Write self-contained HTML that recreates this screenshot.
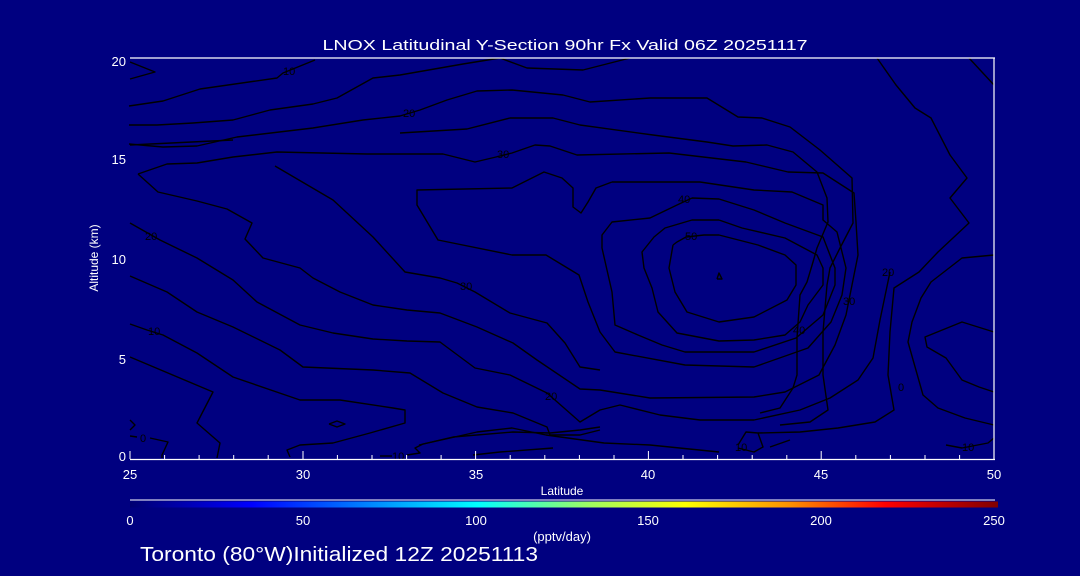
<!DOCTYPE html>
<html><head><meta charset="utf-8"><style>
html,body{margin:0;padding:0;background:#000080;}
svg{display:block;}
text{font-family:"Liberation Sans",sans-serif;fill:#fff;}
</style></head><body>
<svg width="1080" height="576" viewBox="0 0 1080 576" xmlns="http://www.w3.org/2000/svg">
<defs>
<linearGradient id="cb" x1="0" x2="1" y1="0" y2="0">
<stop offset="0" stop-color="#000070"/>
<stop offset="0.14" stop-color="#0000ff"/>
<stop offset="0.40" stop-color="#00ffff"/>
<stop offset="0.53" stop-color="#a0ff60"/>
<stop offset="0.64" stop-color="#ffff00"/>
<stop offset="0.76" stop-color="#ff9000"/>
<stop offset="0.87" stop-color="#ff0000"/>
<stop offset="1" stop-color="#800000"/>
</linearGradient>
</defs>
<rect width="1080" height="576" fill="#000080"/>
<text x="565" y="50" font-size="15" text-anchor="middle" textLength="485" lengthAdjust="spacingAndGlyphs">LNOX Latitudinal Y-Section 90hr  Fx Valid 06Z 20251117</text>

<g fill="none" stroke="#000" stroke-width="1.4" stroke-linejoin="round">
<polyline points="130,62 155,72 130,79"/>
<polyline points="129,106 163,101 200,89 277,78 283,73 315,60"/>
<polyline points="129,125 157,125 193,123 233,120 270,110 313,104 337,98 373,78 400,75 463,64 500,58"/>
<polyline points="500,58 527,68 583,70 630,58"/>
<polyline points="130,145 233,140"/>
<polyline points="129,144 163,147 197,146 237,137 313,128 363,120 400,116 420,110 447,100 477,91 512,90 563,95 590,102 650,98 707,98 738,117 762,118 790,127 820,150 852,178 853,223 840,248 830,268 827,285 823,332 823,375 828,410 810,422 780,425"/>
<polyline points="400,133 467,129 510,118 553,118 580,125 653,135 707,142 733,146 767,145 793,152 817,172 827,198 828,222 817,248 813,262 807,282 800,295 797,338 797,375 793,388 780,408 760,413"/>
<polyline points="138,174 167,164 197,163 233,157 277,152 367,154 443,154 475,162 496,157 512,153 535,145 550,146 577,155 669,153 746,162 788,172 823,173 854,193 856,222 858,255 850,295 846,315 835,345 819,375 785,392 754,397 650,398 600,390 580,389 537,360 513,343 477,327 440,313 407,310 373,305 340,292 313,278 300,268 263,258 245,239 252,223 227,209 197,201 158,192 138,174"/>
<polyline points="275,166 333,200 373,237 405,272 440,278 457,283 475,292 510,313 547,323 565,343 580,367 600,370"/>
<polyline points="612,182 596,188 588,202 581,213 573,207 573,188 562,178 544,172 512,188 417,190 417,205 438,240 512,255 546,255 579,275 588,302 600,332 615,352 685,365 754,367 808,348 831,322 842,295 846,268 837,232 823,220 823,205 792,192 754,190 700,182 612,182"/>
<polyline points="692,198 719,199 754,210 785,223 823,237 835,268 835,285 823,315 796,338 754,352 685,352 662,345 638,335 615,325 612,292 602,248 602,235 612,222 650,218 677,205 692,198"/>
<polyline points="719,220 742,228 785,238 817,255 823,268 823,285 808,305 800,322 785,335 754,340 719,341 677,333 658,312 652,288 644,268 642,252 654,237 665,228 692,220 719,220"/>
<polyline points="673,245 669,268 675,292 687,312 719,322 754,317 787,300 796,285 796,265 785,255 758,245 719,235 704,235 686,237 677,242 673,245"/>
<polyline points="717,279 719,273 722,279 717,279"/>
<polyline points="130,223 160,240 197,258 233,280 257,302 300,325 333,333 373,339 407,341 440,342 475,368 510,375 547,393 580,422 600,410 620,405 660,415 700,420 754,420 800,410 830,398 858,380 873,358 880,320 890,272"/>
<polyline points="877,58 896,85 915,108 931,118 950,155 967,178 950,198 969,223 938,252 919,272 894,288 890,332 888,375 894,410 875,422 838,428 800,432 758,433"/>
<polyline points="969,58 994,85"/>
<polyline points="994,255 962,258 931,282 921,298 912,322 908,342 923,395 938,408 965,418 994,425"/>
<polyline points="994,332 962,322 925,337 927,347 946,358 962,380 979,387 994,392"/>
<polyline points="946,445 962,448 988,443 994,438"/>
<polyline points="130,276 167,292 197,312 233,327 280,350 303,367 373,370 410,373 443,393 477,407 513,413 547,427 550,435 580,435 600,430"/>
<polyline points="130,324 147,330 163,335 197,353 233,377 300,400 340,400 393,408 405,410 405,423 370,433 333,443 300,445 287,450 290,457"/>
<polyline points="130,357 213,392 197,423 220,443 217,458"/>
<polyline points="329,424 337,421 345,424 337,427 329,424"/>
<polyline points="130,420 135,425 130,430"/>
<polyline points="130,436 137,437"/>
<polyline points="150,438 168,442 162,455 162,458"/>
<polyline points="380,456 392,456"/>
<polyline points="407,455 420,453 415,448 423,444 453,437 513,432 550,433 580,430 600,427"/>
<polyline points="473,455 500,452 553,448"/>
<polyline points="419,445 477,432 512,428 546,435 604,443 650,445 719,452"/>
<polyline points="738,445 746,432 758,433 763,447 754,452 738,448"/>
<polyline points="770,447 790,440"/>
</g>
<g font-size="11">
<text x="283" y="75" style="fill:#000">10</text>
<text x="403" y="117" style="fill:#000">20</text>
<text x="497" y="158" style="fill:#000">30</text>
<text x="678" y="203" style="fill:#000">40</text>
<text x="685" y="240" style="fill:#000">50</text>
<text x="145" y="240" style="fill:#000">20</text>
<text x="148" y="335" style="fill:#000">10</text>
<text x="460" y="290" style="fill:#000">30</text>
<text x="545" y="400" style="fill:#000">20</text>
<text x="843" y="305" style="fill:#000">30</text>
<text x="882" y="276" style="fill:#000">20</text>
<text x="793" y="334" style="fill:#000">40</text>
<text x="140" y="442" style="fill:#000">0</text>
<text x="392" y="460" style="fill:#000">10</text>
<text x="735" y="451" style="fill:#000">10</text>
<text x="898" y="391" style="fill:#000">0</text>
<text x="962" y="451" style="fill:#000">10</text>
</g>

<g stroke="#fff" stroke-width="1.2" fill="none">
<line x1="130" y1="58" x2="995" y2="58"/>
<line x1="994" y1="58" x2="994" y2="460"/>
<line x1="130" y1="459.5" x2="995" y2="459.5"/>
</g>
<g stroke="#fff" stroke-width="1">
<path d="M164.6,459v-4M199.1,459v-4M233.7,459v-4M268.2,459v-4M337.4,459v-4M372,459v-4M406.6,459v-4M441.1,459v-4M510.2,459v-4M544.8,459v-4M579.4,459v-4M614,459v-4M683,459v-4M717.6,459v-4M752.2,459v-4M786.8,459v-4M855.8,459v-4M890.4,459v-4M925,459v-4M959.6,459v-4"/>
<path d="M130,459v-8M303,459v-8M475.6,459v-8M648.4,459v-8M821.2,459v-8M994,459v-8"/>
</g>
<g font-size="13">
<text x="126" y="66" text-anchor="end">20</text>
<text x="126" y="164" text-anchor="end">15</text>
<text x="126" y="264" text-anchor="end">10</text>
<text x="126" y="364" text-anchor="end">5</text>
<text x="126" y="461" text-anchor="end">0</text>
<text x="130" y="479" text-anchor="middle">25</text>
<text x="303" y="479" text-anchor="middle">30</text>
<text x="476" y="479" text-anchor="middle">35</text>
<text x="648" y="479" text-anchor="middle">40</text>
<text x="821" y="479" text-anchor="middle">45</text>
<text x="994" y="479" text-anchor="middle">50</text>
</g>
<text x="562" y="495" font-size="12" text-anchor="middle">Latitude</text>
<text transform="translate(98,258) rotate(-90)" font-size="12" text-anchor="middle">Altitude (km)</text>

<line x1="130" y1="500" x2="995" y2="500" stroke="#fff" stroke-width="1"/>
<rect x="130" y="501.5" width="868" height="6" fill="url(#cb)"/>
<g font-size="13" text-anchor="middle">
<text x="130" y="525">0</text>
<text x="303" y="525">50</text>
<text x="476" y="525">100</text>
<text x="648" y="525">150</text>
<text x="821" y="525">200</text>
<text x="994" y="525">250</text>
</g>
<text x="562" y="541" font-size="13" text-anchor="middle">(pptv/day)</text>
<text x="140" y="561" font-size="20" textLength="398" lengthAdjust="spacingAndGlyphs">Toronto (80°W)Initialized 12Z 20251113</text>
</svg>
</body></html>
